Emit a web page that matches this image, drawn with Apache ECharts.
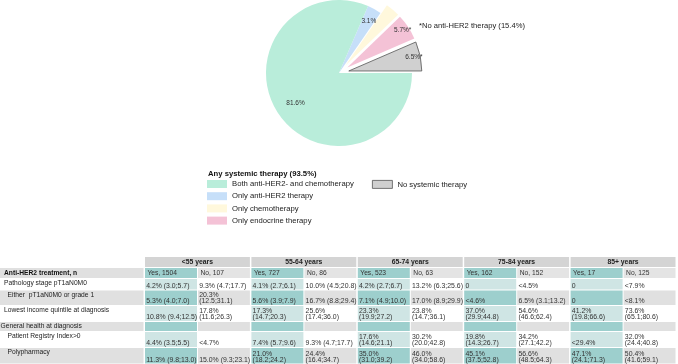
<!DOCTYPE html>
<html><head><meta charset="utf-8">
<script src="https://cdn.jsdelivr.net/npm/echarts@6/dist/echarts.min.js"></script>
<style>html,body{margin:0;padding:0;background:#fff}#c{width:678px;height:364px}</style>
</head><body><div id="c"></div>
<script>
// ---------- data ----------
const pieNames = ['No systemic therapy', 'Only endocrine therapy', 'Only chemotherapy', 'Only anti-HER2 therapy', 'Both anti-HER2- and chemotherapy'];
const pieValues = [6.5, 5.7, 3.2, 3.1, 81.6];
const pieNoAntiHER2 = [true, true, true, false, false];
const legendOrder = [4, 3, 2, 1];
const legendTitle = 'Any systemic therapy (93.5%)';
const noAntiHER2Note = '*No anti-HER2 therapy (15.4%)';

const ageGroups = ['<55 years', '55-64 years', '65-74 years', '75-84 years', '85+ years'];
const yesN = [1504, 727, 523, 162, 17];
const noN = [107, 86, 63, 152, 125];
const headerLabel = 'Anti-HER2 treatment, n';
const rowLabels = ['Pathology stage pT1aN0M0', 'Either  pT1aN0M0 or grade 1', 'Lowest income quintile at diagnosis',
  'General health at diagnosis', 'Patient Registry Index>0', 'Polypharmacy'];
// each: [<55 yes, <55 no, 55-64 yes, 55-64 no, 65-74 yes, 65-74 no, 75-84 yes, 75-84 no, 85+ yes, 85+ no]
const pathologyStage = ['4.2% (3.0;5.7)', '9.3% (4.7;17.7)', '4.1% (2.7;6.1)', '10.0% (4.5;20.8)', '4.2% (2.7;6.7)', '13.2% (6.3;25.6)', '0', '<4.5%', '0', '<7.9%'];
const eitherGrade1 = ['5.3% (4.0;7.0)', '20.3% (12.5;31.1)', '5.6% (3.9;7.9)', '16.7% (8.8;29.4)', '7.1% (4.9;10.0)', '17.0% (8.9;29.9)', '<4.6%', '6.5% (3.1;13.2)', '0', '<8.1%'];
const lowestIncome = ['10.8% (9.4;12.5)', '17.8% (11.6;26.3)', '17.3% (14.7;20.3)', '25.6% (17.4;36.0)', '23.3% (19.9;27.2)', '23.8% (14.7;36.1)', '37.0% (29.9;44.8)', '54.6% (46.6;62.4)', '41.2% (19.8;66.6)', '73.6% (65.1;80.6)'];
const generalHealth = ['', '', '', '', '', '', '', '', '', ''];
const patientRegistry = ['4.4% (3.5;5.5)', '<4.7%', '7.4% (5.7;9.6)', '9.3% (4.7;17.7)', '17.6% (14.6;21.1)', '30.2% (20.0;42.8)', '19.8% (14.3;26.7)', '34.2% (27.1;42.2)', '<29.4%', '32.0% (24.4;40.8)'];
const polypharmacy = ['11.3% (9.8;13.0)', '15.0% (9.3;23.1)', '21.0% (18.2;24.2)', '24.4% (16.4;34.7)', '35.0% (31.0;39.2)', '46.0% (34.0;58.6)', '45.1% (37.5;52.8)', '56.6% (48.5;64.3)', '47.1% (24.1;71.3)', '50.4% (41.6;59.1)'];
const tableRows = [pathologyStage, eitherGrade1, lowestIncome, generalHealth, patientRegistry, polypharmacy];

// ---------- style / layout ----------
const FONT = '"Liberation Sans", Arial, Helvetica, sans-serif';
const pieColors = ['#d0d0d0', '#f4c2d6', '#fff8dc', '#c6dff9', '#b9edda'];
const pieExploded = [true, true, true, false, false];
const C = [339, 73], R = 73;
const rowTops = [257, 268, 279, 290.5, 306, 322, 332, 348, 364.5];
const headerIndent = 4;
const bodyIndent = [4, 7.5, 4, 0.5, 7.5, 7.5];
const GREY_ROW = '#e0e0e0', BAND = '#d4d4d4', TEAL_DARK = '#9dcfcd', TEAL_LIGHT = '#cfe5e4', NO_HEAD = '#e4e4e4';
const VAL_SIZE = 6.9;

const measure = document.createElement('canvas').getContext('2d');
measure.font = VAL_SIZE + 'px ' + FONT;
const wrapCell = s => measure.measureText(s).width > 53 ? s.replace(' ', '\n') : s;

const els = [];
function rect(x, y, w, h, fill) { els.push({ type: 'rect', silent: true, shape: { x, y, width: w, height: h }, style: { fill } }); }
function text(str, x, y, opt) {
  els.push({ type: 'text', silent: true, x, y, style: Object.assign({ text: str, fontSize: 6.7, fontFamily: FONT, fill: '#333', lineHeight: 6 }, opt || {}) });
}
const groupX = g => 145 + g * 106.4;
// age band header
ageGroups.forEach((a, g) => {
  rect(groupX(g), rowTops[0], 104.9, rowTops[1] - rowTops[0] - 1, BAND);
  text(a, groupX(g) + 52.4, (rowTops[0] + rowTops[1] - 1) / 2, { align: 'center', verticalAlign: 'middle', fontWeight: 'bold', fill: '#222', fontSize: 6.8 });
});
// header row
{
  const y0 = rowTops[1], h = rowTops[2] - rowTops[1] - 1, cy = y0 + h / 2;
  rect(0, y0, 143.5, h, GREY_ROW);
  text(headerLabel, headerIndent, cy, { verticalAlign: 'middle', fontWeight: 'bold', fill: '#111' });
  ageGroups.forEach((a, g) => {
    rect(groupX(g), y0, 52, h, TEAL_DARK);
    rect(groupX(g) + 53, y0, 51.9, h, NO_HEAD);
    text('Yes, ' + yesN[g], groupX(g) + 2.5, cy, { verticalAlign: 'middle' });
    text('No, ' + noN[g], groupX(g) + 55.5, cy, { verticalAlign: 'middle' });
  });
}
// body rows
tableRows.forEach((vals, r) => {
  const ri = r + 2, y0 = rowTops[ri], y1 = rowTops[ri + 1], h = y1 - y0 - 1;
  const grey = r % 2 === 1;
  if (grey) rect(0, y0, 143.5, h, GREY_ROW);
  text(rowLabels[r], bodyIndent[r], y0 + 1.6, { verticalAlign: 'top', fill: '#222' });
  ageGroups.forEach((a, g) => {
    rect(groupX(g), y0, 52, h, grey ? TEAL_DARK : TEAL_LIGHT);
    if (grey) rect(groupX(g) + 53, y0, 51.9, h, GREY_ROW);
    [0, 1].forEach(k => {
      const s = vals[g * 2 + k];
      if (!s) return;
      text(wrapCell(s), groupX(g) + 1.2 + k * 53, y1 - 1.5, { verticalAlign: 'bottom', fontSize: VAL_SIZE });
    });
  });
});
// annotations
text(legendTitle, 208, 173.5, { verticalAlign: 'middle', fontWeight: 'bold', fontSize: 7.7, fill: '#111' });
text(noAntiHER2Note, 419, 26, { verticalAlign: 'middle', fontSize: 7.6, fill: '#222' });

const labelFmt = p => pieValues[p.dataIndex].toFixed(1) + '%' + (pieNoAntiHER2[p.dataIndex] ? '*' : '');
function overlay(r0, showIdx) {
  return {
    type: 'pie', center: C, radius: [r0, R], startAngle: 0, clockwise: false, silent: true,
    selectedMode: 'multiple', selectedOffset: 10, avoidLabelOverlap: false, legendHoverLink: false,
    emphasis: { disabled: true }, labelLine: { show: false },
    itemStyle: { color: 'rgba(0,0,0,0)', borderWidth: 0 },
    label: { position: 'inside', formatter: labelFmt, fontSize: 6.5, fontFamily: FONT, color: '#333', offset: [0, 2] },
    data: pieNames.map((n, i) => ({ name: n, value: pieValues[i], selected: pieExploded[i], label: { show: showIdx.includes(i) } }))
  };
}

const chart = echarts.init(document.getElementById('c'), null, { renderer: 'canvas' });
chart.setOption({
  backgroundColor: '#fff',
  animation: false,
  legend: [
    {
      data: legendOrder.map(i => pieNames[i]), orient: 'vertical', left: 207, top: 180, padding: 0,
      itemWidth: 20, itemHeight: 8, itemGap: 4.2, icon: 'rect', selectedMode: false,
      textStyle: { fontSize: 7.7, lineHeight: 8, fontFamily: FONT, color: '#222' }
    },
    {
      data: [{ name: pieNames[0], itemStyle: { borderColor: '#555', borderWidth: 0.8 } }], left: 372, top: 180, padding: 0,
      itemWidth: 20, itemHeight: 8, icon: 'rect', selectedMode: false,
      textStyle: { fontSize: 7.7, lineHeight: 8, fontFamily: FONT, color: '#222' }
    }
  ],
  graphic: { elements: els },
  series: [
    {
      type: 'pie', name: 'main', center: C, radius: R, startAngle: 0, clockwise: false,
      selectedMode: 'multiple', selectedOffset: 10, avoidLabelOverlap: false, silent: true,
      emphasis: { disabled: true }, label: { show: false }, labelLine: { show: false },
      select: { itemStyle: { borderWidth: 0 } },
      data: pieNames.map((n, i) => ({
        name: n, value: pieValues[i], selected: pieExploded[i],
        itemStyle: { color: pieColors[i], borderColor: i === 0 ? '#555' : 'rgba(0,0,0,0)', borderWidth: i === 0 ? 0.8 : 0 },
        select: { itemStyle: { borderColor: i === 0 ? '#555' : 'rgba(0,0,0,0)', borderWidth: i === 0 ? 0.8 : 0 } }
      }))
    },
    overlay(54, [0, 1, 2]),
    overlay(44, [3]),
    overlay(25, [4])
  ]
});
</script></body></html>
